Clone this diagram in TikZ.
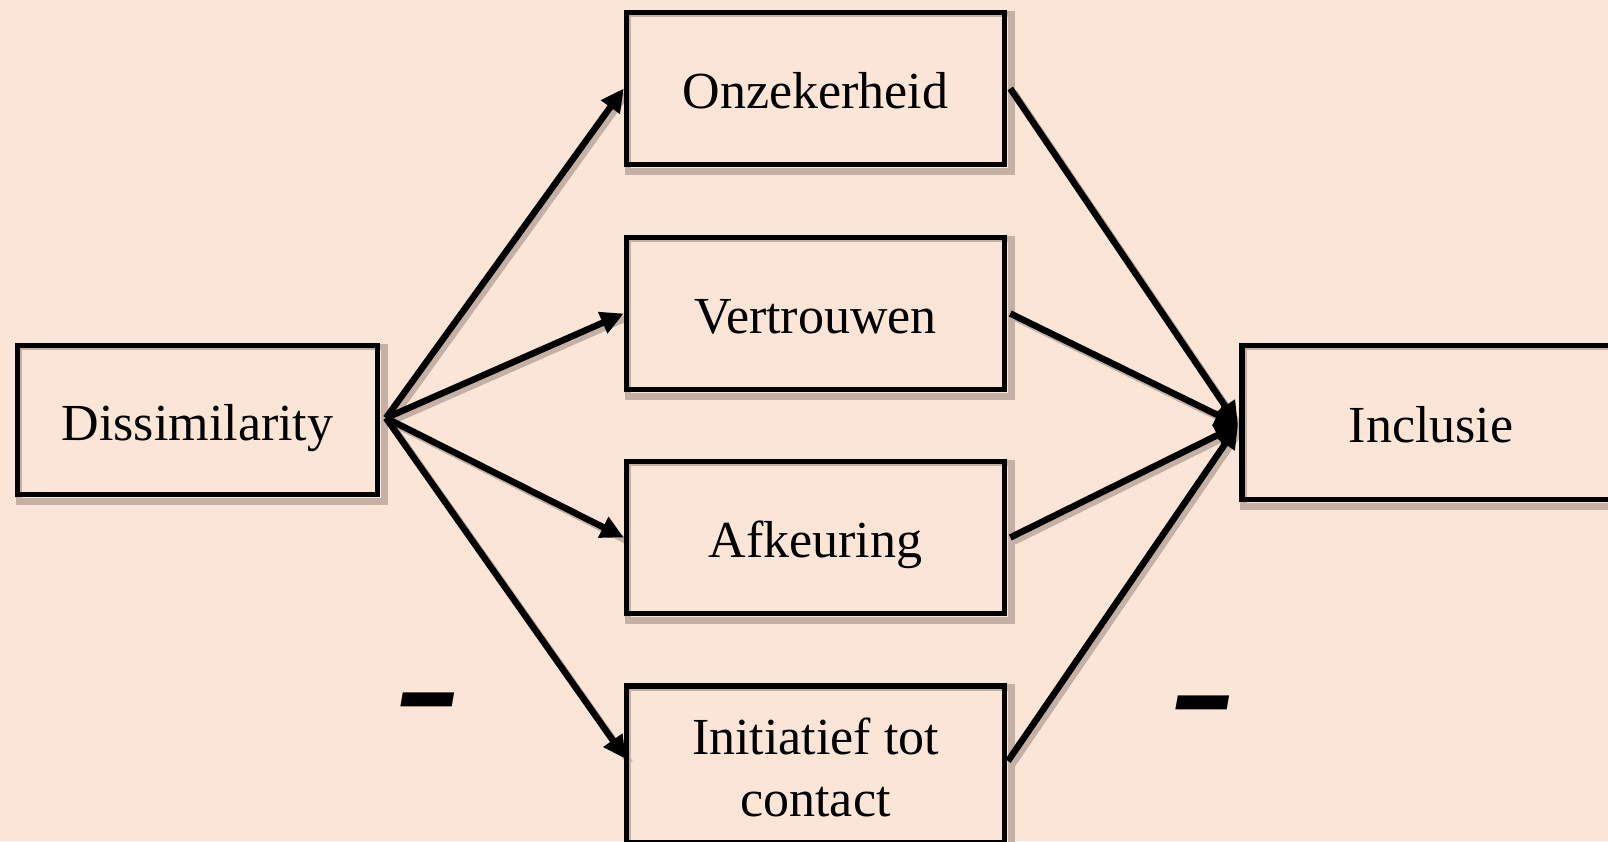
\documentclass[tikz,border=0pt]{standalone}
\usepackage{fontspec}
\setmainfont{Liberation Serif}
\usetikzlibrary{arrows.meta,backgrounds}
\definecolor{bgc}{HTML}{FBE5D6}
\definecolor{shc}{RGB}{196,176,164}
\begin{document}
\begin{tikzpicture}[x=1pt,y=-1pt,
  txt/.style={inner sep=0pt, align=center, font=\fontsize{52}{62}\selectfont},
  box/.style={txt, draw, line width=5.5pt, rectangle},
  one/.style={text height=40pt, text depth=0pt},
  conn/.style={line width=6.5pt, -{Triangle[length=23pt,width=22pt]}},
  shad/.style={shc, line width=6.5pt, transform canvas={xshift=4pt,yshift=-4pt}},
  minus/.style={inner sep=0pt, font=\fontsize{100}{100}\selectfont\bfseries\itshape,
    yscale=2, xslant=0.35, transform shape}]
\useasboundingbox (0,0) rectangle (1608,841);
\begin{scope}
\clip (0,0) rectangle (1608,841);
\node[box, one, minimum width=360pt, minimum height=149pt] (dis) at (197.5,420) {Dissimilarity};
\node[box, one, minimum width=378pt, minimum height=152pt] (onz) at (815.5,88.5) {Onzekerheid};
\node[box, one, minimum width=378pt, minimum height=152pt] (ver) at (815.5,313.5) {Vertrouwen};
\node[box, one, minimum width=378pt, minimum height=152pt] (afk) at (815.5,537.5) {Afkeuring};
\node[box, minimum width=378pt, minimum height=157pt] (ini) at (815.5,764.5) {};
\node[txt] (initxt) at (815.5,767) {Initiatief tot\\contact};
\node[box, one, minimum width=378pt, minimum height=154pt] (inc) at (1431,422.5) {Inclusie};
\coordinate (src) at (386,418);
\coordinate (snk) at (1238,425);
\coordinate (iniw) at (626,759);
\coordinate (inie) at (1008,761);
\draw[conn] (src) -- (onz.west);
\draw[conn] (src) -- (ver.west);
\draw[conn] (src) -- (afk.west);
\draw[conn] (src) -- (iniw);
\draw[conn] ([xshift=3pt]onz.east) -- (snk);
\draw[conn] ([xshift=3pt]ver.east) -- (snk);
\draw[conn] ([xshift=3pt]afk.east) -- (snk);
\draw[conn] (inie) -- (snk);
\node[minus] (m1) at (425,720) {–};
\node[minus] (m2) at (1200,723) {–};
\end{scope}
\begin{pgfonlayer}{background}
\fill[bgc] (0,0) rectangle (1608,841);
\foreach \n in {dis,onz,ver,afk,ini,inc}{
  \draw[shad] (\n.north west) rectangle (\n.south east);
}
\foreach \n in {onz,ver,afk}{
  \draw[shad] (src) -- (\n.west);
  \draw[shad] ([xshift=3pt]\n.east) -- (snk);
}
\draw[shad] (src) -- (iniw);
\draw[shad] (inie) -- (snk);
\end{pgfonlayer}
\end{tikzpicture}
\end{document}
